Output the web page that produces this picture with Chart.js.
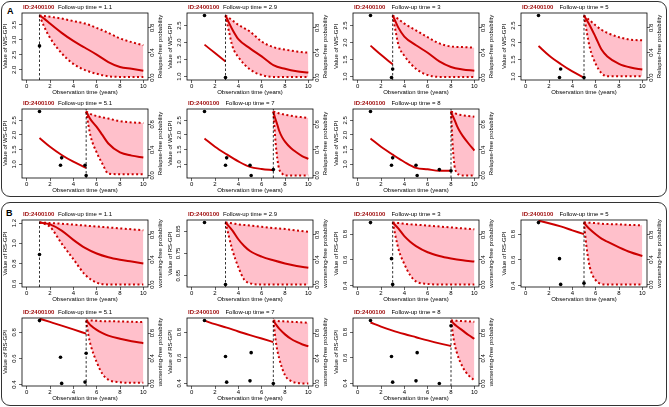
<!DOCTYPE html>
<html>
<head>
<meta charset="utf-8">
<script src="https://cdn.jsdelivr.net/npm/chart.js@4.4.1/dist/chart.umd.min.js"></script>
<style>
  html, body { margin: 0; padding: 0; background: #fff; }
  #page { position: relative; width: 669px; height: 407px; overflow: hidden; font-family: "Liberation Sans", Arial, sans-serif; }
  .frame { position: absolute; border: 1.5px solid #333; border-radius: 9px; box-sizing: border-box; }
  .tag { position: absolute; font-weight: bold; font-size: 9px; line-height: 10px; }
  canvas { position: absolute; }
</style>
</head>
<body>
<div id="page">
  <div class="frame" style="left:1px;top:1px;width:666px;height:196px"></div>
  <div class="frame" style="left:1px;top:202px;width:666px;height:204px"></div>
  <div class="tag" style="left:7px;top:6px">A</div>
  <div class="tag" style="left:6px;top:208px">B</div>
</div>
<script>
// shared values
const patientId = 'ID:2400100';
const followUps = [1.1, 2.9, 3, 5, 5.1, 7, 8];
const obsTimes = [1.1, 2.9, 3.0, 5.0, 5.1, 7.0, 8.0];
const xTicks = [0, 2, 4, 6, 8, 10];
const probTicks = [0, 0.4, 0.8];

// A: WS-GPI
const wsObs = [2.8, 0.97, 1.22, 0.97, 0.62, 0.82, 0.78];
const wsYMin = [1.66, 0.897, 0.897, 0.897, 0.533, 0.533, 0.533];
const wsYMax = [3.90, 2.873, 2.873, 2.873, 2.887, 2.887, 2.887];
const wsYTicks = [[2, 2.5, 3, 3.5], [1, 1.5, 2, 2.5], [1, 1.5, 2, 2.5], [1, 1.5, 2, 2.5],
                  [1, 1.5, 2, 2.5], [1, 1.5, 2, 2.5], [1, 1.5, 2, 2.5]];
const wsFitT = [[], [1.1, 2, 2.9], [1.1, 2, 3], [1.1, 2, 3, 4, 5], [1.1, 2, 3, 4, 5.1],
                [1.1, 2, 3, 4, 5, 6, 7], [1.1, 2, 3, 4, 5, 6, 7, 8]];
const wsFitV = [[], [1.94, 1.69, 1.44], [1.91, 1.64, 1.36], [1.90, 1.62, 1.37, 1.15, 0.97],
                [1.90, 1.60, 1.32, 1.09, 0.88], [1.88, 1.60, 1.34, 1.10, 0.91, 0.84, 0.80],
                [1.88, 1.60, 1.33, 1.08, 0.88, 0.83, 0.78, 0.78]];
const wsSurvT = [
  [1.1, 1.5, 2, 3, 4, 5, 6, 7, 8, 9, 10],
  [2.9, 3.2, 3.5, 4, 5, 6, 7, 8, 9, 10],
  [3, 3.25, 3.5, 4, 5, 6, 7, 8, 9, 10],
  [5, 5.25, 5.5, 6, 6.5, 7, 8, 9, 10],
  [5.1, 5.3, 5.5, 6, 6.5, 7, 8, 9, 10],
  [7, 7.1, 7.2, 7.35, 7.5, 7.75, 8, 8.5, 9, 9.5, 10],
  [8, 8.08, 8.15, 8.3, 8.5, 8.75, 9, 9.5, 10]
];
const wsSurvMid = [
  [1.0, 0.95, 0.87, 0.72, 0.59, 0.48, 0.37, 0.25, 0.17, 0.14, 0.11],
  [1.0, 0.88, 0.77, 0.62, 0.47, 0.34, 0.20, 0.14, 0.10, 0.08],
  [1.0, 0.90, 0.80, 0.66, 0.52, 0.40, 0.26, 0.17, 0.13, 0.11],
  [1.0, 0.92, 0.84, 0.65, 0.45, 0.34, 0.22, 0.16, 0.13],
  [1.0, 0.93, 0.87, 0.76, 0.63, 0.50, 0.36, 0.31, 0.28],
  [1.0, 0.93, 0.87, 0.79, 0.70, 0.60, 0.53, 0.43, 0.36, 0.30, 0.26],
  [1.0, 0.96, 0.93, 0.87, 0.78, 0.69, 0.62, 0.50, 0.39]
];
const wsSurvHi = [
  [1.0, 0.99, 0.98, 0.95, 0.91, 0.87, 0.80, 0.72, 0.63, 0.57, 0.52],
  [1.0, 0.96, 0.92, 0.85, 0.74, 0.58, 0.49, 0.45, 0.42, 0.40],
  [1.0, 0.97, 0.94, 0.87, 0.76, 0.65, 0.55, 0.50, 0.49, 0.48],
  [1.0, 0.96, 0.92, 0.84, 0.77, 0.72, 0.65, 0.61, 0.60],
  [1.0, 0.98, 0.96, 0.93, 0.91, 0.89, 0.85, 0.83, 0.82],
  [1.0, 0.995, 0.99, 0.98, 0.97, 0.96, 0.95, 0.935, 0.92, 0.91, 0.90],
  [1.0, 0.995, 0.99, 0.98, 0.96, 0.95, 0.94, 0.93, 0.92]
];
const wsSurvLo = [
  [1.0, 0.82, 0.64, 0.39, 0.22, 0.12, 0.06, 0.02, 0.01, 0.01, 0.01],
  [1.0, 0.74, 0.50, 0.33, 0.13, 0.04, 0.01, 0.01, 0.01, 0.01],
  [1.0, 0.75, 0.52, 0.35, 0.14, 0.04, 0.01, 0.01, 0.01, 0.01],
  [1.0, 0.72, 0.48, 0.22, 0.07, 0.02, 0.02, 0.02, 0.02],
  [1.0, 0.78, 0.60, 0.36, 0.18, 0.03, 0.02, 0.02, 0.02],
  [1.0, 0.75, 0.50, 0.25, 0.10, 0.03, 0.0, 0.0, 0.0, 0.0, 0.0],
  [1.0, 0.70, 0.45, 0.15, 0.04, 0.01, 0.0, 0.0, 0.0]
];

// B: RS-GPI
const rsObs = [0.89, 0.61, 0.41, 0.42, 0.64, 0.40, 0.85];
const rsYMin = [0.57, 0.599, 0.39, 0.39, 0.39, 0.38, 0.38];
const rsYMax = [1.23, 0.901, 0.91, 0.91, 0.91, 0.91, 0.91];
const rsYTicks = [[0.6, 0.8, 1.0, 1.2], [0.65, 0.75, 0.85], [0.4, 0.6, 0.8], [0.4, 0.6, 0.8],
                  [0.4, 0.6, 0.8], [0.4, 0.6, 0.8], [0.4, 0.6, 0.8]];
const rsFitT = [[], [], [], [1.1, 2, 3, 4, 5], [1.1, 2, 3, 4, 5.1],
                [1.1, 2, 3, 4, 5, 6, 7], [1.1, 2, 3, 4, 5, 6, 7, 8]];
const rsFitV = [[], [], [], [0.905, 0.885, 0.86, 0.83, 0.80], [0.905, 0.88, 0.852, 0.823, 0.79],
                [0.89, 0.862, 0.835, 0.805, 0.777, 0.75, 0.722],
                [0.875, 0.843, 0.812, 0.785, 0.76, 0.735, 0.712, 0.692]];
const rsSurvT = [
  [1.1, 2, 3, 4, 5, 6, 7, 8, 9, 10],
  [2.9, 3.5, 4, 4.5, 5, 6, 7, 8, 9, 10],
  [3, 3.5, 4, 4.5, 5, 6, 7, 8, 9, 10],
  [5, 5.2, 5.5, 6, 6.5, 7, 8, 9, 10],
  [5.1, 5.3, 5.5, 6, 6.5, 7, 8, 9, 10],
  [7, 7.25, 7.5, 8, 8.5, 9, 9.5, 10],
  [8, 8.25, 8.5, 9, 9.5, 10]
];
const rsSurvMid = [
  [1.0, 0.97, 0.87, 0.72, 0.59, 0.50, 0.44, 0.40, 0.37, 0.34],
  [1.0, 0.87, 0.73, 0.62, 0.54, 0.45, 0.39, 0.34, 0.30, 0.27],
  [1.0, 0.90, 0.78, 0.69, 0.62, 0.52, 0.46, 0.42, 0.39, 0.37],
  [1.0, 0.95, 0.89, 0.81, 0.74, 0.69, 0.60, 0.52, 0.46],
  [1.0, 0.96, 0.92, 0.85, 0.80, 0.76, 0.71, 0.67, 0.64],
  [1.0, 0.93, 0.87, 0.78, 0.71, 0.66, 0.62, 0.59],
  [1.0, 0.95, 0.91, 0.84, 0.77, 0.71]
];
const rsSurvHi = [
  [1.0, 0.99, 0.98, 0.965, 0.95, 0.935, 0.92, 0.905, 0.89, 0.875],
  [1.0, 0.985, 0.97, 0.96, 0.95, 0.93, 0.91, 0.895, 0.87, 0.85],
  [1.0, 0.99, 0.98, 0.97, 0.965, 0.95, 0.935, 0.92, 0.905, 0.89],
  [1.0, 1.0, 0.995, 0.99, 0.98, 0.975, 0.97, 0.96, 0.955],
  [1.0, 1.0, 1.0, 0.995, 0.99, 0.99, 0.985, 0.98, 0.975],
  [1.0, 0.995, 0.99, 0.985, 0.98, 0.975, 0.97, 0.965],
  [1.0, 1.0, 0.995, 0.99, 0.985, 0.98]
];
const rsSurvLo = [
  [1.0, 0.93, 0.66, 0.41, 0.16, 0.03, 0.0, 0.0, 0.0, 0.0],
  [1.0, 0.55, 0.28, 0.08, 0.02, 0.0, 0.0, 0.0, 0.0, 0.0],
  [1.0, 0.57, 0.33, 0.15, 0.05, 0.01, 0.0, 0.0, 0.0, 0.0],
  [1.0, 0.63, 0.28, 0.07, 0.01, 0.0, 0.0, 0.0, 0.0],
  [1.0, 0.76, 0.60, 0.34, 0.15, 0.06, 0.02, 0.01, 0.01],
  [1.0, 0.62, 0.40, 0.13, 0.04, 0.01, 0.0, 0.0],
  [1.0, 0.68, 0.49, 0.26, 0.13, 0.05]
];

// panel placement (plot box in page pixels)
const colLeft = [22, 187, 353, 521];
const rowTop = [13, 109, 220, 318];
const rowHeight = [67, 69, 67, 68];
const boxWidth = 126;
const leftW = 22, rightW = 20, topPad = 12, bottomH = 18;

const red = '#cc0000';
const pink = '#ffc0cb';
const probMin = -0.04, probMax = 1.04;

Chart.defaults.font.family = '"Liberation Sans", Arial, Helvetica, sans-serif';
Chart.defaults.font.size = 6;
Chart.defaults.color = '#000';

function pts(t, v) { return t.map((x, i) => ({ x: x, y: v[i] })); }

function digits(list) {
  return Math.max(1, ...list.map(v => (String(v).split('.')[1] || '').length));
}

const panelDecor = {
  id: 'panelDecor',
  afterDraw(chart, args, opts) {
    const ctx = chart.ctx, a = chart.chartArea;
    ctx.save();
    ctx.strokeStyle = '#000';
    ctx.lineWidth = 0.8;
    ctx.strokeRect(a.left, a.top, a.right - a.left, a.bottom - a.top);
    ctx.textBaseline = 'middle';
    ctx.font = 'bold 6px "Liberation Sans", Arial, sans-serif';
    ctx.fillStyle = '#a01010';
    ctx.textAlign = 'left';
    ctx.fillText(patientId, a.left + 1, a.top - 6);
    ctx.font = '6px "Liberation Sans", Arial, sans-serif';
    ctx.fillStyle = '#000';
    ctx.textAlign = 'center';
    ctx.fillText('Follow-up time = ' + opts.fu, (a.left + a.right) / 2, a.top - 6);
    ctx.translate(a.right + 12, (a.top + a.bottom) / 2);
    ctx.rotate(-Math.PI / 2);
    ctx.fillText(opts.rightTitle, 0, 0);
    ctx.restore();
  }
};

const groups = [
  { obs: wsObs, fitT: wsFitT, fitV: wsFitV, survT: wsSurvT, mid: wsSurvMid, hi: wsSurvHi, lo: wsSurvLo,
    yMin: wsYMin, yMax: wsYMax, yTicks: wsYTicks, rows: [0, 1],
    leftTitle: 'Value of WS-GPI', rightTitle: 'Relapse-free probability' },
  { obs: rsObs, fitT: rsFitT, fitV: rsFitV, survT: rsSurvT, mid: rsSurvMid, hi: rsSurvHi, lo: rsSurvLo,
    yMin: rsYMin, yMax: rsYMax, yTicks: rsYTicks, rows: [2, 3],
    leftTitle: 'Value of RS-GPI', rightTitle: 'worsening-free probability' }
];

const page = document.getElementById('page');

groups.forEach(g => {
  followUps.forEach((fu, i) => {
    const row = g.rows[i < 4 ? 0 : 1];
    const col = i < 4 ? i : i - 4;
    const canvas = document.createElement('canvas');
    const w = leftW + boxWidth + rightW;
    const h = topPad + rowHeight[row] + bottomH;
    canvas.width = w; canvas.height = h;
    canvas.style.left = (colLeft[col] - leftW) + 'px';
    canvas.style.top = (rowTop[row] - topPad) + 'px';
    canvas.style.width = w + 'px'; canvas.style.height = h + 'px';
    page.appendChild(canvas);

    const shownT = obsTimes.filter(t => t <= fu + 1e-9);
    const yTicks = g.yTicks[i];
    const yDigits = digits(yTicks);

    new Chart(canvas.getContext('2d'), {
      type: 'line',
      data: {
        datasets: [
          { data: pts(shownT, g.obs), yAxisID: 'y', showLine: false, pointRadius: 1.8,
            pointBackgroundColor: '#000', pointBorderWidth: 0, order: 0 },
          { data: [{ x: fu, y: probMin }, { x: fu, y: probMax }], yAxisID: 'y2', borderColor: '#000',
            borderWidth: 0.8, borderDash: [2.5, 2], pointRadius: 0, order: 1 },
          { data: pts(g.fitT[i], g.fitV[i]), yAxisID: 'y', borderColor: red, borderWidth: 1.9,
            pointRadius: 0, cubicInterpolationMode: 'monotone', order: 2 },
          { data: pts(g.survT[i], g.mid[i]), yAxisID: 'y2', borderColor: red, borderWidth: 2,
            pointRadius: 0, cubicInterpolationMode: 'monotone', order: 3 },
          { data: pts(g.survT[i], g.hi[i]), yAxisID: 'y2', borderColor: red, borderWidth: 2,
            borderDash: [2, 2.5], pointRadius: 0, cubicInterpolationMode: 'monotone',
            fill: '+1', backgroundColor: pink, order: 4 },
          { data: pts(g.survT[i], g.lo[i]), yAxisID: 'y2', borderColor: red, borderWidth: 2,
            borderDash: [2, 2.5], pointRadius: 0, cubicInterpolationMode: 'monotone', order: 5 }
        ]
      },
      options: {
        responsive: false,
        animation: false,
        events: [],
        layout: { padding: { top: topPad, left: 0, right: 0, bottom: 0 } },
        plugins: {
          legend: { display: false },
          tooltip: { enabled: false },
          filler: { drawTime: 'beforeDatasetsDraw' },
          panelDecor: { fu: String(fu), rightTitle: g.rightTitle }
        },
        scales: {
          x: {
            type: 'linear', min: -0.4, max: 10.4,
            afterBuildTicks: s => { s.ticks = xTicks.map(v => ({ value: v })); },
            afterFit: s => { s.height = bottomH; },
            grid: { drawOnChartArea: false, tickLength: 3, color: '#000', lineWidth: 0.6 },
            border: { display: false },
            ticks: { padding: 0, maxRotation: 0, autoSkip: false, color: '#000' },
            title: { display: true, text: 'Observation time (years)', padding: { top: 0, bottom: 2 } }
          },
          y: {
            position: 'left', min: g.yMin[i], max: g.yMax[i],
            afterBuildTicks: s => { s.ticks = yTicks.map(v => ({ value: v })); },
            afterFit: s => { s.width = leftW; },
            grid: { drawOnChartArea: false, tickLength: 3, color: '#000', lineWidth: 0.6 },
            border: { display: false },
            ticks: { minRotation: 90, maxRotation: 90, crossAlign: 'center', padding: 0,
                     autoSkip: false, color: '#000', callback: v => v.toFixed(yDigits) },
            title: { display: true, text: g.leftTitle, padding: { top: 2, bottom: 0 } }
          },
          y2: {
            position: 'right', min: probMin, max: probMax,
            afterBuildTicks: s => { s.ticks = probTicks.map(v => ({ value: v })); },
            afterFit: s => { s.width = rightW; },
            grid: { drawOnChartArea: false, tickLength: 3, color: '#000', lineWidth: 0.6 },
            border: { display: false },
            ticks: { minRotation: 90, maxRotation: 90, crossAlign: 'center', padding: -3,
                     autoSkip: false, color: '#000', callback: v => v.toFixed(1) }
          }
        }
      },
      plugins: [panelDecor]
    });
  });
});
</script>
</body>
</html>
